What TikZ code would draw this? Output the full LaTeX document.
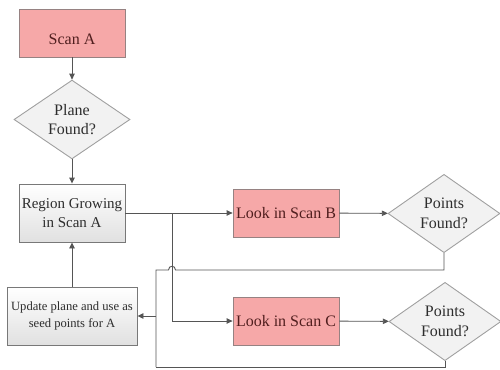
\documentclass[tikz,border=0pt]{standalone}
\usepackage{fontspec}
\setmainfont{Liberation Serif}
\usetikzlibrary{shapes.geometric,arrows.meta}
\definecolor{pinkfill}{RGB}{246,168,168}
\definecolor{pinkline}{RGB}{150,130,130}
\definecolor{boxline}{RGB}{120,120,120}
\definecolor{conn}{RGB}{85,85,85}
\definecolor{dfill}{RGB}{242,242,242}
\definecolor{dline}{RGB}{160,160,160}
\definecolor{pinktext}{RGB}{80,30,30}
\definecolor{graytext}{RGB}{45,45,45}
\tikzset{
  pinkbox/.style={draw=pinkline, fill=pinkfill, line width=0.8pt, minimum width=106pt, minimum height=48pt, inner sep=0pt, text=pinktext, font=\fontsize{16}{19}\selectfont, align=center},
  graybox/.style={draw=boxline, top color=white, bottom color=black!12, line width=0.9pt, inner sep=0pt, text=graytext, align=center},
  decision/.style={diamond, draw=dline, fill=dfill, line width=0.9pt, inner sep=0pt, text=graytext, font=\fontsize{16}{19.5}\selectfont, align=center},
  conn/.style={draw=conn, line width=0.9pt},
  arr/.style={conn, -{Triangle[length=6pt,width=5.5pt]}}
}
\begin{document}
\begin{tikzpicture}[x=1pt,y=-1pt]
\useasboundingbox (0,0) rectangle (500,369);
\node[pinkbox, label={[yshift=-6pt, text=pinktext, font=\fontsize{16}{19}\selectfont]center:Scan A}] (scanA) at (72,33) {};
\node[decision, minimum width=116pt, minimum height=75pt] (plane) at (72,119.5) {Plane\\Found?};
\node[graybox, minimum width=106pt, minimum height=58pt, font=\fontsize{15}{19}\selectfont] (region) at (72,213) {Region Growing\\in Scan A};
\node[graybox, minimum width=130pt, minimum height=58pt, font=\fontsize{12.6}{17}\selectfont] (update) at (72,316) {Update plane and use as\\seed points for A};
\node[pinkbox] (lookB) at (286,213) {Look in Scan B};
\node[pinkbox] (lookC) at (286,321) {Look in Scan C};
\node[decision, minimum width=112pt, minimum height=77pt] (pfB) at (444,213.5) {Points\\Found?};
\node[decision, minimum width=112pt, minimum height=77pt] (pfC) at (445,321.5) {Points\\Found?};
\coordinate (split) at (172,213);
\coordinate (fbx) at (156,270);
\coordinate (fbmid) at (156,316);
\coordinate (fbC) at (156,367);
\draw[arr] (scanA) -- (plane);
\draw[arr] (plane) -- (region);
\draw[arr] (update) -- (region);
\draw[arr] (region.east) -- (lookB.west);
\draw[arr] (split) |- (lookC.west);
\draw[arr] (lookB) -- (pfB);
\draw[arr] (lookC) -- (pfC);
\draw[conn] (pfB.south) |- (175.5,270) .. controls (175.5,265) and (168.5,265) .. (168.5,270) -- (fbx) -- (fbC);
\draw[conn] (pfC.south) |- (fbC);
\draw[arr] (fbmid) -- (update.east);
\end{tikzpicture}
\end{document}
